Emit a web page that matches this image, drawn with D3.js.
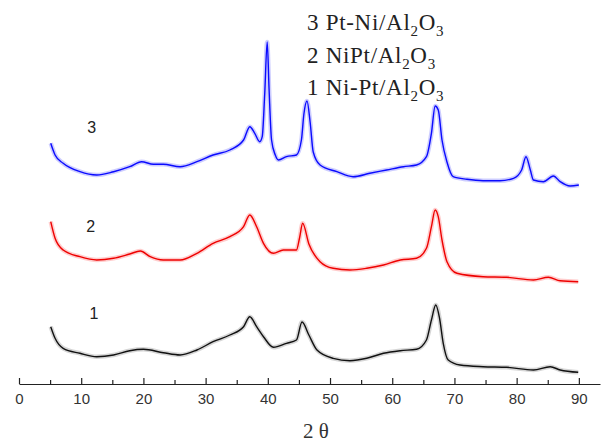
<!DOCTYPE html>
<html>
<head>
<meta charset="utf-8">
<script src="https://cdn.jsdelivr.net/npm/d3@7"></script>
<style>
  html, body { margin: 0; padding: 0; background: #fff; }
  svg { display: block; }
</style>
</head>
<body>
<svg id="chart" width="605" height="443"></svg>
<script>
// ---- data (2θ in degrees, intensity in arbitrary units, offset stacked) ----
const series3Theta = [5.1, 5.8, 7.1, 9.8, 12.5, 15.2, 17.8, 19.7, 21.6, 23.2, 25.9, 28.6, 31.2, 33.9, 36.1, 37.1, 37.9, 38.7, 39.1, 39.5, 39.9, 40.2, 40.6, 41.2, 41.7, 43.0, 44.6, 45.4, 45.8, 46.3, 46.8, 47.3, 48.4, 51.1, 53.7, 56.4, 59.1, 61.8, 63.9, 65.5, 66.3, 66.9, 67.4, 68.0, 68.8, 69.8, 72.0, 74.6, 77.3, 79.5, 80.8, 81.5, 82.2, 82.7, 84.3, 85.9, 87.0, 88.6, 90.0];
const series3Value = [240.7, 229, 220.7, 212.3, 209, 212.3, 217.3, 222.3, 219.7, 219.7, 217.3, 222.3, 229, 234, 244, 257.3, 250.7, 242.3, 247.3, 290, 342, 295, 244, 229, 224, 227.3, 229, 244, 270, 283, 262, 232, 219, 212.3, 207.3, 210.7, 214, 217.3, 219, 227.3, 250.7, 278, 274, 244, 222, 207.3, 204.7, 203.3, 203.3, 205.7, 214, 227.3, 214, 204, 202.3, 208, 202.3, 198, 199];

const series2Theta = [5.1, 5.8, 7.1, 9.8, 12.5, 15.2, 17.8, 19.5, 21.1, 23.2, 25.9, 28.6, 31.2, 33.9, 36.1, 37.1, 38.2, 39.3, 40.9, 42.5, 44.6, 45.1, 45.6, 46.6, 48.4, 50.5, 53.2, 55.9, 58.6, 61.3, 63.9, 65.5, 66.3, 66.9, 67.4, 68.0, 68.8, 70.4, 74.6, 78.4, 82.7, 85.1, 87.0, 89.9];
const series2Value = [162.3, 145.7, 134, 127.3, 124, 125.7, 130, 133, 127.3, 124, 124, 130.7, 140.7, 147.3, 157.3, 169, 157.3, 140.7, 130.7, 134, 134, 146, 160.7, 140, 122.3, 115.7, 114, 115.7, 119, 124, 125.7, 135.7, 157.3, 174, 167.3, 144, 122.3, 110.7, 107.3, 106.7, 104, 106.7, 103.3, 102.3];

const series1Theta = [5.1, 5.8, 7.1, 9.8, 12.5, 15.2, 17.8, 20.0, 23.2, 25.9, 28.6, 31.2, 33.9, 36.1, 37.1, 38.2, 39.3, 40.9, 43.0, 44.6, 45.5, 46.6, 47.9, 50.5, 53.2, 55.9, 58.6, 61.3, 63.9, 65.5, 66.3, 67.0, 67.6, 68.2, 69.0, 70.9, 74.6, 78.4, 82.7, 85.4, 87.0, 89.9];
const series1Value = [57.3, 45.7, 35.7, 30.7, 27.3, 29, 33.3, 34.7, 31.3, 29, 34, 42.3, 49, 57.3, 67.3, 57.3, 47.3, 36.7, 40.7, 44, 62, 49, 34, 25.7, 23.3, 25.7, 30.7, 33.3, 34.7, 44, 64, 79, 66, 40.7, 24, 19, 17.3, 16.7, 14, 17.3, 14, 11.7];

const xTicks = [0, 5, 10, 15, 20, 25, 30, 35, 40, 45, 50, 55, 60, 65, 70, 75, 80, 85, 90];
const xLabel = "2 θ";
const curveLabels = ["3", "2", "1"];
const legendNames = [["3 Pt-Ni/Al", "2", "O", "3"], ["2 NiPt/Al", "2", "O", "3"], ["1 Ni-Pt/Al", "2", "O", "3"]];

// ---- drawing ----
const svg = d3.select("#chart");
const x = d3.scaleLinear().domain([0, 93.4]).range([19, 600]);
const y = d3.scaleLinear().domain([0, 384]).range([384, 0]);

const traces = [
  { theta: series3Theta, value: series3Value, color: "#0a0aff", halo: "#7070ff" },
  { theta: series2Theta, value: series2Value, color: "#ee0000", halo: "#ff7070" },
  { theta: series1Theta, value: series1Value, color: "#111111", halo: "#8a8a8a" }
];

const line = d3.line()
  .x(d => x(d[0]))
  .y(d => y(d[1]))
  .curve(d3.curveMonotoneX);

traces.forEach(t => {
  const pts = t.theta.map((v, i) => [v, t.value[i]]);
  svg.append("path").datum(pts)
    .attr("d", line)
    .attr("fill", "none")
    .attr("stroke", t.halo)
    .attr("stroke-opacity", 0.35)
    .attr("stroke-width", 4.5)
    .attr("stroke-linejoin", "round");
  svg.append("path").datum(pts)
    .attr("d", line)
    .attr("fill", "none")
    .attr("stroke", t.color)
    .attr("stroke-width", 1.4)
    .attr("stroke-linejoin", "round");
});

// axis
const axis = d3.axisBottom(x)
  .tickValues(xTicks)
  .tickSizeInner(-6)
  .tickSizeOuter(0)
  .tickPadding(9)
  .tickFormat(d => d % 10 === 0 ? d : "");

const gAxis = svg.append("g").attr("transform", "translate(0,384)").call(axis);
gAxis.select(".domain").attr("stroke", "#222").attr("stroke-width", 1.2);
gAxis.selectAll(".tick line")
  .attr("stroke", "#222")
  .attr("stroke-width", 1.2)
  .attr("y2", d => d % 10 === 0 ? -6 : -4);
gAxis.selectAll(".tick text")
  .attr("font-family", "Liberation Sans, Arial, sans-serif")
  .attr("font-size", 15)
  .attr("fill", "#333");

svg.append("text")
  .attr("x", 316).attr("y", 438)
  .attr("text-anchor", "middle")
  .attr("font-family", "Liberation Serif, Times New Roman, serif")
  .attr("font-size", 21)
  .attr("fill", "#333")
  .text(xLabel);

// curve numbers
const labelPos = [[91.7, 132.7], [90.7, 232.3], [94, 319]];
curveLabels.forEach((lab, i) => {
  svg.append("text")
    .attr("x", labelPos[i][0]).attr("y", labelPos[i][1])
    .attr("text-anchor", "middle")
    .attr("font-family", "Liberation Sans, Arial, sans-serif")
    .attr("font-size", 16)
    .attr("fill", "#222")
    .text(lab);
});

// legend text
const legendBase = [29.5, 63, 95];
legendNames.forEach((parts, i) => {
  const t = svg.append("text")
    .attr("x", 307).attr("y", legendBase[i])
    .attr("font-family", "Liberation Serif, Times New Roman, serif")
    .attr("font-size", 23)
    .attr("letter-spacing", 0.7)
    .attr("fill", "#222");
  t.append("tspan").text(parts[0]);
  t.append("tspan").attr("font-size", 15).attr("dy", 6).text(parts[1]);
  t.append("tspan").attr("dy", -6).text(parts[2]);
  t.append("tspan").attr("font-size", 15).attr("dy", 6).text(parts[3]);
});
</script>
</body>
</html>
